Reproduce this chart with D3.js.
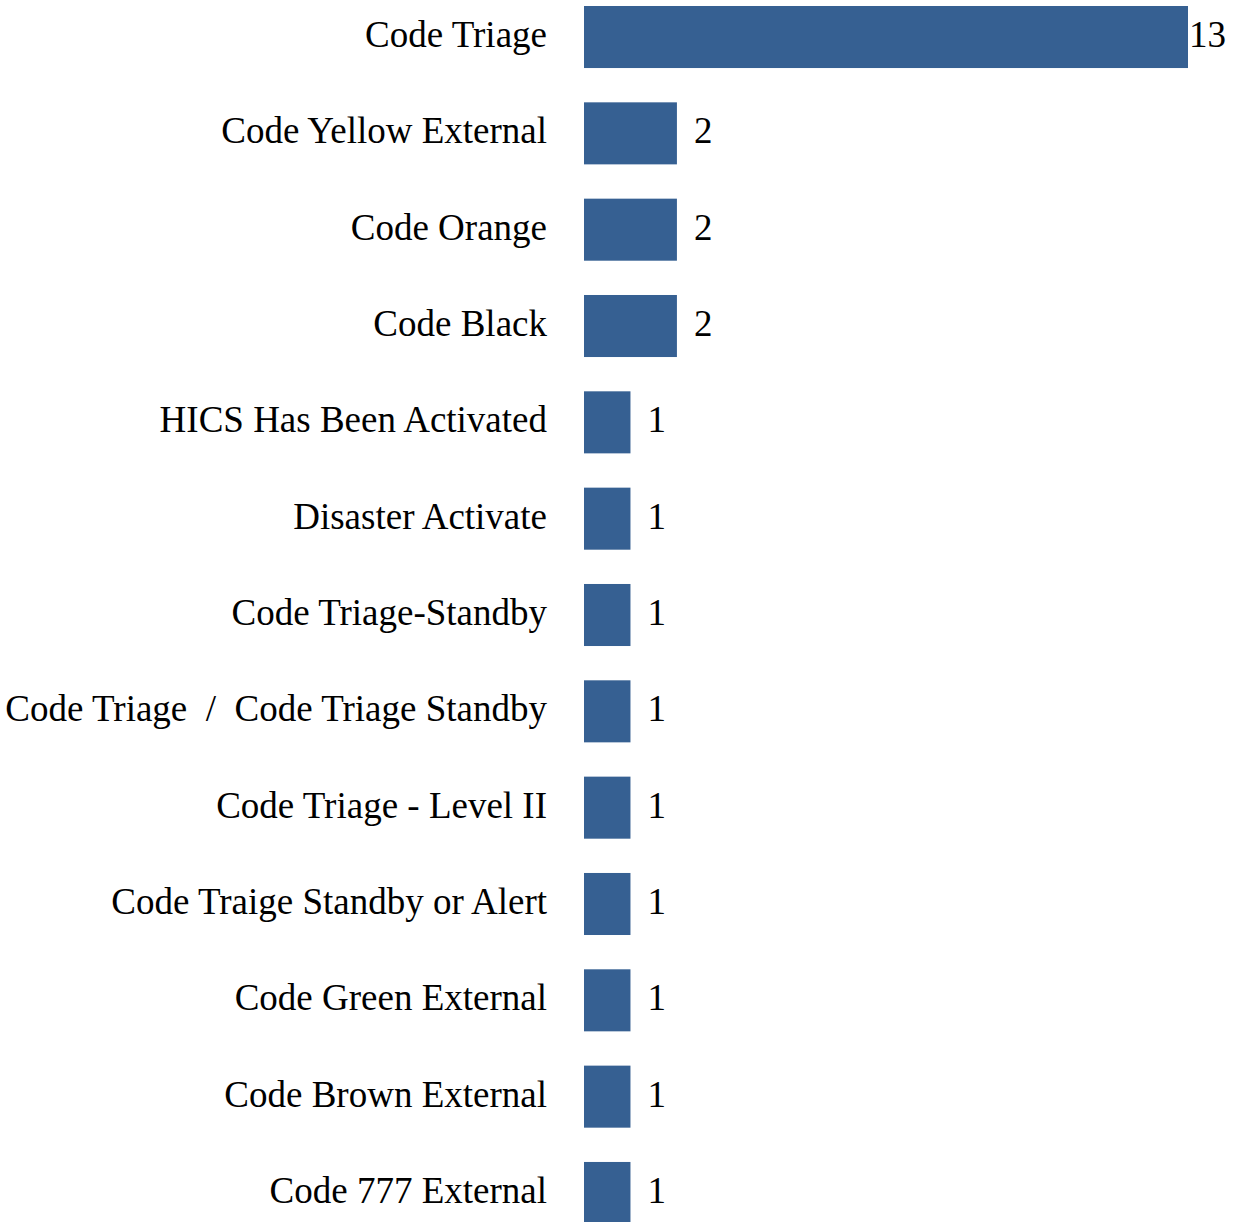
<!DOCTYPE html>
<html><head><meta charset="utf-8">
<script src="https://cdn.jsdelivr.net/npm/d3@7"></script>
<style>html,body{margin:0;padding:0;background:#fff;overflow:hidden} text{white-space:pre}</style>
</head><body>
<svg id="chart" width="1236" height="1222"></svg>
<script>
const categories = ["Code Triage","Code Yellow External","Code Orange","Code Black","HICS Has Been Activated","Disaster Activate","Code Triage-Standby","Code Triage  /  Code Triage Standby","Code Triage - Level II","Code Traige Standby or Alert","Code Green External","Code Brown External","Code 777 External"];
const values = [13,2,2,2,1,1,1,1,1,1,1,1,1];

const svg = d3.select("#chart");
const W = 1236;
const x0 = 584;
const x = d3.scaleLinear().domain([0,13]).range([x0,1188]);
const y = d3.scaleBand().domain(categories).range([6,1224]).paddingInner(0.356).paddingOuter(0);
const font = "'Liberation Serif', serif";
const fs = 37;

svg.selectAll("rect.bar").data(categories).join("rect")
  .attr("x", x0).attr("y", d=>y(d))
  .attr("width", (d,i)=>x(values[i])-x0).attr("height", y.bandwidth())
  .attr("fill","#366092");

svg.selectAll("text.cat").data(categories).join("text")
  .attr("x", 547).attr("y", d=>y(d)+y.bandwidth()/2)
  .attr("dy","0.27em").attr("text-anchor","end")
  .style("font-family",font).style("font-size",fs+"px").attr("fill","#000")
  .text(d=>d);

svg.selectAll("text.val").data(categories).join("text")
  .attr("y", d=>y(d)+y.bandwidth()/2).attr("dy","0.27em")
  .style("font-family",font).style("font-size",fs+"px").attr("fill","#000")
  .text((d,i)=>values[i])
  .each(function(d,i){
    const t=d3.select(this);
    const w=this.getComputedTextLength();
    let px=x(values[i])+17;
    if(px+w>W-10) px=W-10-w;
    t.attr("x",px);
  });
</script>
</body></html>
